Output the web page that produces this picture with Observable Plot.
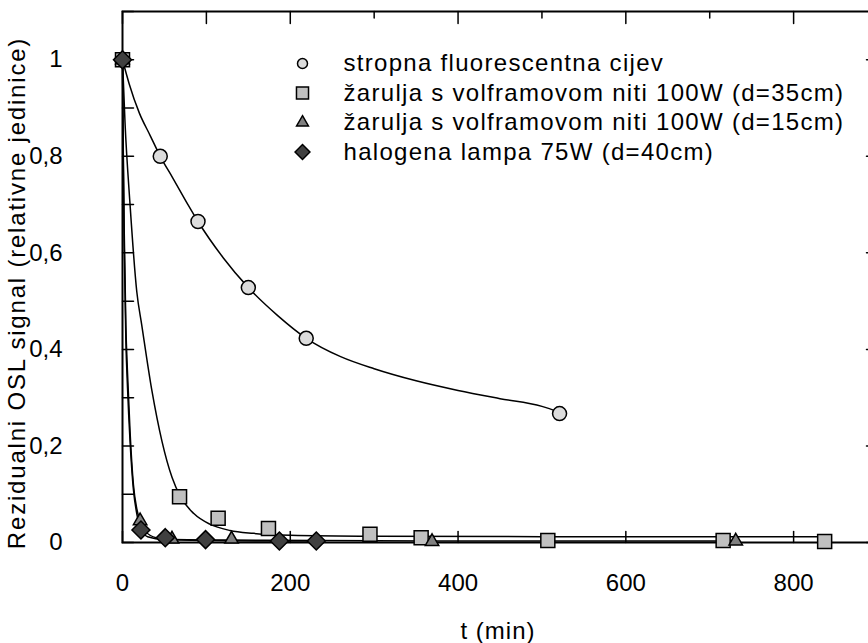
<!DOCTYPE html>
<html>
<head>
<meta charset="utf-8">
<script src="https://cdn.jsdelivr.net/npm/d3@7"></script>
<script src="https://cdn.jsdelivr.net/npm/@observablehq/plot@0.6"></script>
<style>
  body { margin: 0; background: #fff; }
  svg text[aria-label="legend"] { letter-spacing: 1.3px; }
  svg text[aria-label="ylabel"] { letter-spacing: 1.8px; }
  svg text[aria-label="xlabel"] { letter-spacing: 1px; }
</style>
</head>
<body>
<div id="chart"></div>
<script>
// Series names (legend)
const seriesNames = [
  "stropna fluorescentna cijev",
  "žarulja s volframovom niti 100W (d=35cm)",
  "žarulja s volframovom niti 100W (d=15cm)",
  "halogena lampa 75W (d=40cm)"
];

// Measured points
const fluoT = [0, 45, 90, 150, 219, 521];
const fluoV = [1, 0.80, 0.665, 0.528, 0.423, 0.267];

const z35T = [0, 68, 114, 174, 295, 356, 507, 716, 837];
const z35V = [1, 0.095, 0.05, 0.029, 0.017, 0.010, 0.004, 0.004, 0.002];

const z15T = [0, 21, 59, 130, 369, 731];
const z15V = [1, 0.045, 0.007, 0.007, 0.002, 0.003];

const halT = [0, 22, 51, 99, 187, 231];
const halV = [1, 0.026, 0.010, 0.006, 0.003, 0.003];

// Fitted curves
const fluoFitT = [0, 8, 20, 33, 45, 60, 78, 90, 120, 150, 185, 219, 260, 300, 350, 400, 450, 500, 521];
const fluoFitV = [1, 0.95, 0.89, 0.843, 0.80, 0.755, 0.70, 0.665, 0.59, 0.528, 0.47, 0.423, 0.385, 0.36, 0.335, 0.315, 0.298, 0.282, 0.27];

const z35FitT = [0, 3, 9, 17, 23, 35, 47, 59, 69, 85, 104, 128, 156, 200, 300, 500, 837];
const z35FitV = [1, 0.87, 0.70, 0.52, 0.45, 0.315, 0.21, 0.135, 0.095, 0.06, 0.038, 0.025, 0.019, 0.015, 0.013, 0.012, 0.012];

const z15FitT = [0, 1, 2, 4, 6, 9, 13, 17, 21, 28, 40, 60, 130, 369, 731];
const z15FitV = [1, 0.80, 0.65, 0.45, 0.35, 0.23, 0.12, 0.07, 0.045, 0.022, 0.01, 0.006, 0.005, 0.003, 0.003];

const halFitT = [0, 1, 2, 4, 6, 9, 13, 17, 22, 30, 51, 99, 187, 231];
const halFitV = [1, 0.78, 0.62, 0.42, 0.32, 0.21, 0.11, 0.06, 0.028, 0.012, 0.006, 0.004, 0.003, 0.003];

// Axis ticks
const xTickLabels = [0, 200, 400, 600, 800];
const xMinorTicks = [0, 100, 200, 300, 400, 500, 600, 700, 800];
const yTickLabels = [0, 0.2, 0.4, 0.6, 0.8, 1];
const yMinorTicks = [0, 0.1, 0.2, 0.3, 0.4, 0.5, 0.6, 0.7, 0.8, 0.9, 1, 1.1];

const symbols = ["circle", "square", "triangle", "diamond2"];
const fills = ["#dcdcdc", "#c0c0c0", "#808080", "#404040"];
const radii = [7, 7.9, 5, 8.1];
const legendRadii = [5, 6.8, 4.4, 6.7];

const pointSets = [[fluoT, fluoV], [z35T, z35V], [z15T, z15V], [halT, halV]];
const fitSets = [[fluoFitT, fluoFitV], [z35FitT, z35FitV], [z15FitT, z15FitV], [halFitT, halFitV]];

const points = pointSets.map(([T, V], s) => T.map((t, i) => ({t, v: V[i], s})));
const fits = fitSets.flatMap(([T, V], s) => T.map((t, i) => ({t, v: V[i], s})));

const tickShape = { draw(ctx, l) { ctx.moveTo(0, 0); ctx.lineTo(0, -l); } };
const fmt = d => d === 0 ? "0" : d === 1 ? "1" : d.toFixed(1).replace(".", ",");

const marks = [];
marks.push(Plot.frame({stroke: "black", strokeWidth: 2}));
// tick marks (inside)
marks.push(Plot.vector(xMinorTicks, {x: d => d, frameAnchor: "top", rotate: 180, anchor: "start", length: d => d % 200 === 0 || d === 100 ? 11 : 6, shape: tickShape, stroke: "black", strokeWidth: 1.5}));
marks.push(Plot.vector(xTickLabels, {x: d => d, frameAnchor: "bottom", rotate: 0, anchor: "start", length: 11, shape: tickShape, stroke: "black", strokeWidth: 1.5}));
marks.push(Plot.vector(yMinorTicks, {y: d => d, frameAnchor: "left", rotate: 90, anchor: "start", length: 11, shape: tickShape, stroke: "black", strokeWidth: 1.5}));
marks.push(Plot.vector(yTickLabels, {y: d => d, frameAnchor: "right", rotate: -90, anchor: "start", length: 11, shape: tickShape, stroke: "black", strokeWidth: 1.5}));
// tick labels
marks.push(Plot.axisX({ticks: xTickLabels, tickSize: 0, tickPadding: 31, tickFormat: d => String(d), label: null}));
marks.push(Plot.axisY({ticks: yTickLabels, tickSize: 0, tickPadding: 60, tickFormat: fmt, label: null}));
// fitted lines
marks.push(Plot.line(fits, {x: "t", y: "v", z: "s", curve: "monotone-x", stroke: "black", strokeWidth: 1.5}));
// points
points.forEach((pts, s) => {
  marks.push(Plot.dot(pts, {x: "t", y: "v", symbol: symbols[s], r: radii[s], fill: fills[s], stroke: "black", strokeWidth: 1.5}));
});
// legend
seriesNames.forEach((name, i) => {
  marks.push(Plot.dot([name], {frameAnchor: "top-left", dx: 180, dy: 52 + 29.5 * i, symbol: symbols[i], r: legendRadii[i], fill: fills[i], stroke: "black", strokeWidth: 1.5}));
  marks.push(Plot.text([name], {frameAnchor: "top-left", dx: 221, dy: 52 + 29.5 * i, text: d => d, textAnchor: "start", lineAnchor: "middle", fill: "black", ariaLabel: () => "legend"}));
});
// axis titles
marks.push(Plot.text(["t (min)"], {frameAnchor: "bottom", dx: -2, dy: 89, text: d => d, textAnchor: "middle", lineAnchor: "middle", fill: "black", ariaLabel: () => "xlabel"}));
marks.push(Plot.text(["Rezidualni OSL signal (relativne jedinice)"], {frameAnchor: "left", dx: -105, dy: 16, rotate: -90, text: d => d, textAnchor: "middle", lineAnchor: "middle", fill: "black", ariaLabel: () => "ylabel"}));

const chart = Plot.plot({
  width: 868,
  height: 643,
  marginLeft: 122,
  marginRight: -9,
  marginTop: 11,
  marginBottom: 101,
  x: {domain: [0, 900]},
  y: {domain: [0, 1.1]},
  style: {fontFamily: "'Liberation Sans', Arial, sans-serif", fontSize: "24px", color: "black", background: "white", overflow: "hidden"},
  marks
});
document.getElementById("chart").appendChild(chart);
</script>
</body>
</html>
